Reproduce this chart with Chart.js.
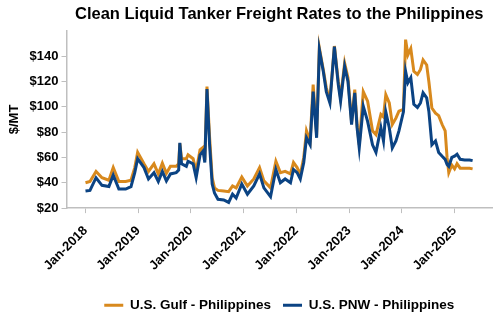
<!DOCTYPE html>
<html>
<head>
<meta charset="utf-8">
<script src="https://cdn.jsdelivr.net/npm/chart.js@4"></script>
<style>
  html, body { margin: 0; padding: 0; background: #fff; }
  #wrap { width: 500px; height: 330px; }
</style>
</head>
<body>
<div id="wrap"><canvas id="myChart" width="500" height="330"></canvas></div>
<script>
// dates (approximate)
var dates = [
  "2018-01-01", "2018-02-01", "2018-03-15", "2018-04-25", "2018-06-12", "2018-07-12",
  "2018-08-20", "2018-10-06", "2018-11-12", "2018-12-08", "2018-12-28", "2019-02-10",
  "2019-03-13", "2019-04-20", "2019-05-20", "2019-06-17", "2019-07-15", "2019-08-12",
  "2019-09-21", "2019-10-08", "2019-10-16", "2019-10-28", "2019-11-30", "2019-12-12",
  "2020-01-16", "2020-02-06", "2020-03-04", "2020-03-25", "2020-04-06", "2020-04-21",
  "2020-05-09", "2020-05-27", "2020-06-12", "2020-07-06", "2020-08-15", "2020-09-18",
  "2020-10-15", "2020-11-09", "2020-12-18", "2021-01-27", "2021-03-12", "2021-04-21",
  "2021-05-21", "2021-07-06", "2021-08-12", "2021-09-12", "2021-10-15", "2021-11-21",
  "2021-12-12", "2022-01-06", "2022-01-28", "2022-02-21", "2022-03-12", "2022-04-06",
  "2022-04-27", "2022-05-21", "2022-06-09", "2022-07-06", "2022-07-27", "2022-08-21",
  "2022-09-21", "2022-10-18", "2022-11-03", "2022-12-01", "2022-12-24", "2023-01-18",
  "2023-02-09", "2023-02-25", "2023-03-12", "2023-04-09", "2023-05-09", "2023-06-12",
  "2023-07-06", "2023-08-09", "2023-08-27", "2023-09-12", "2023-10-06", "2023-10-27",
  "2023-11-21", "2023-12-12", "2024-01-12", "2024-01-27", "2024-02-12", "2024-03-03",
  "2024-03-24", "2024-04-18", "2024-05-09", "2024-05-27", "2024-06-21", "2024-07-06",
  "2024-07-27", "2024-08-21", "2024-09-12", "2024-10-06", "2024-10-27", "2024-11-09",
  "2024-11-21", "2024-12-12", "2025-01-01", "2025-01-18", "2025-02-09", "2025-03-12",
  "2025-04-15", "2025-05-06"
];

var gulf = [
  40, 41, 49, 44, 42, 52,
  41, 41, 42, 52, 64, 55,
  49, 55, 47, 55.5, 47.5, 53,
  53, 55, 71, 59, 59, 62,
  59, 49, 66, 68, 58, 116,
  76, 44, 36, 34, 33.5, 33,
  37.5, 36, 44.5, 37.5, 43, 52,
  41.5, 36, 57, 48, 49, 47,
  56, 52, 46.5, 60, 81, 73,
  117.5, 78, 146.5, 129.5, 115, 105,
  148, 120, 107, 134.5, 123, 88,
  113.5, 86, 70, 112, 104.5, 81,
  78, 94, 92, 109.5, 103, 86,
  91, 96.5, 98, 153, 141, 146,
  128, 125.5, 129.5, 137, 133, 120,
  99, 95, 93, 86, 81, 60,
  48, 54, 51, 55, 51.5, 51.5,
  51.5, 51
];

var pnw = [
  33.5, 34, 44, 38, 37, 46,
  35, 35, 37, 48, 59, 52,
  43, 48, 41, 49, 41.5, 47,
  48, 50, 71.5, 55, 53, 57,
  55, 44, 62, 65, 56, 114,
  70, 39, 32, 27, 26.5, 24.5,
  31, 28, 39, 31, 37.5, 47,
  36, 29, 50.5, 40, 43, 40,
  50.5, 48, 43, 56, 75.5, 70,
  112, 75.5, 145, 128, 112, 103,
  147.5, 117.5, 104.5, 132, 120, 86,
  111, 83.5, 67.5, 100.5, 88.5, 70,
  64, 83.5, 73, 96, 83.5, 67.5,
  73, 81, 96, 128, 119, 123,
  102, 99.5, 103, 111, 107, 96.5,
  70, 73, 64, 61, 58.5, 54.5,
  53, 60, 61, 62.5, 58.5, 58,
  58, 57.5
];

var yearTicks = [2018, 2019, 2020, 2021, 2022, 2023, 2024, 2025];
var seriesNames = ["U.S. Gulf - Philippines", "U.S. PNW - Philippines"];

function toYear(s) {
  var p = s.split("-").map(Number);
  var start = Date.UTC(p[0], 0, 1);
  var d = Date.UTC(p[0], p[1] - 1, p[2]);
  return p[0] + (d - start) / (365 * 86400000);
}

function toPoints(values) {
  return values.map(function (v, i) {
    return { x: toYear(dates[i]), y: v };
  });
}

var axisGray = "#bfbfbf";
var font13 = { family: "Liberation Sans, Arial, sans-serif", size: 13, weight: "bold" };

window.onload = function () {
  var ctx = document.getElementById("myChart").getContext("2d");

  var myChart = new Chart(ctx, {
    type: "line",
    data: {
      datasets: [
        {
          label: seriesNames[0],
          data: toPoints(gulf),
          borderColor: "#d8891d",
          backgroundColor: "#d8891d",
          borderWidth: 3,
          pointRadius: 0,
          tension: 0,
          order: 1,
        },
        {
          label: seriesNames[1],
          data: toPoints(pnw),
          borderColor: "#0b4383",
          backgroundColor: "#0b4383",
          borderWidth: 3,
          pointRadius: 0,
          tension: 0,
          order: 0, // PNW drawn on top
        },
      ],
    },
    options: {
      responsive: false,
      animation: false,
      layout: { padding: { left: 3, right: 8, top: 0, bottom: 8 } },
      plugins: {
        title: {
          display: true,
          text: "Clean Liquid Tanker Freight Rates to the Philippines",
          fullSize: false,
          color: "#000",
          font: { family: "Liberation Sans, Arial, sans-serif", size: 16.5, weight: "bold" },
          padding: { top: 5, bottom: 6 },
        },
        legend: {
          position: "bottom",
          fullSize: false,
          labels: {
            usePointStyle: true,
            pointStyle: "line",
            pointStyleWidth: 19,
            boxHeight: 12,
            color: "#000",
            font: { family: "Liberation Sans, Arial, sans-serif", size: 13.5, weight: "bold" },
            padding: 12,
            sort: function (a, b) { return a.datasetIndex - b.datasetIndex; },
          },
        },
        tooltip: { enabled: false },
      },
      scales: {
        x: {
          type: "linear",
          min: 2017.64,
          max: 2025.71,
          afterBuildTicks: function (scale) {
            scale.ticks = yearTicks.map(function (v) { return { value: v }; });
          },
          afterFit: function (scale) { scale.height += 3; },
          ticks: {
            color: "#000",
            font: font13,
            minRotation: 45,
            maxRotation: 45,
            padding: 10,
            callback: function (v) { return "Jan-" + v; },
          },
          grid: { drawOnChartArea: false, drawTicks: true, tickLength: 5, color: axisGray },
          border: { display: true, color: axisGray, width: 1.5 },
        },
        y: {
          min: 20,
          max: 160,
          ticks: {
            stepSize: 20,
            color: "#000",
            font: font13,
            padding: 3,
            callback: function (v) { return v === 160 ? "" : "$" + v; },
          },
          title: { display: true, text: "$/MT", color: "#000", font: font13, padding: 4 },
          grid: {
            drawOnChartArea: false,
            drawTicks: true,
            tickLength: 5,
            color: function (c) { return c.tick && c.tick.value === 160 ? "rgba(0,0,0,0)" : axisGray; },
          },
          border: { display: true, color: axisGray, width: 1.5 },
        },
      },
    },
  });
};
</script>
</body>
</html>
